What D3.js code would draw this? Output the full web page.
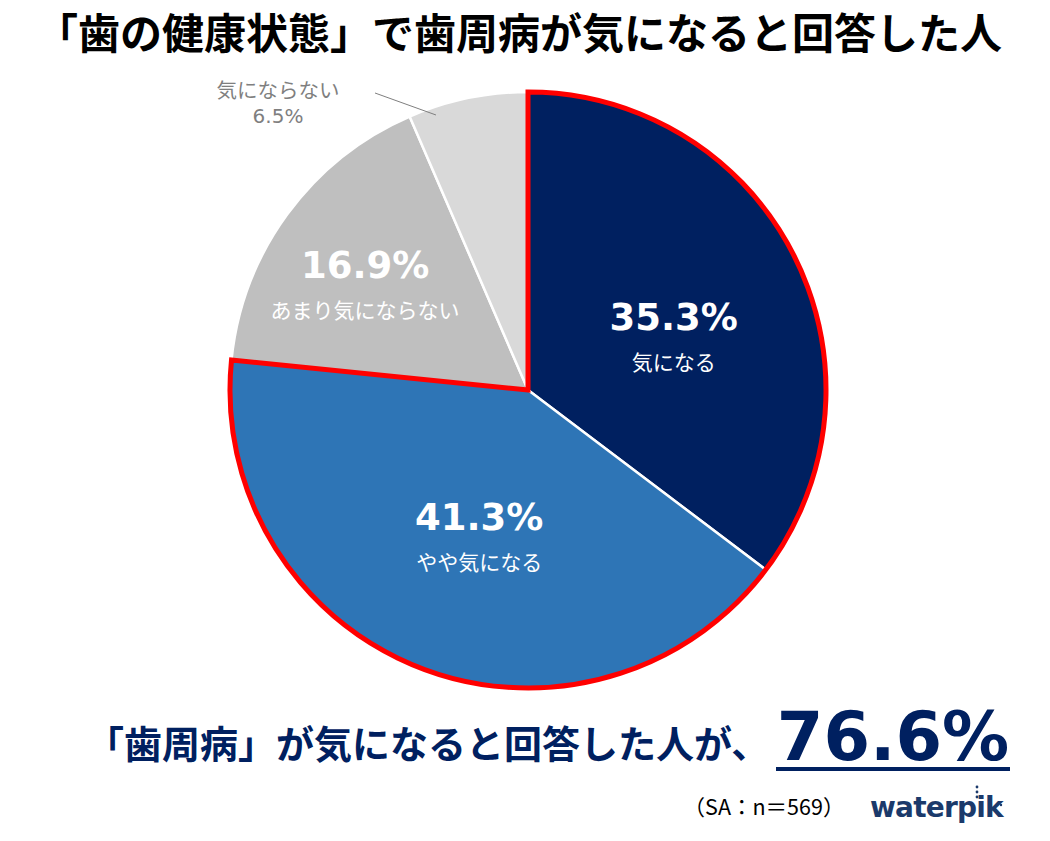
<!DOCTYPE html>
<html>
<head>
<meta charset="utf-8">
<script src="https://cdn.jsdelivr.net/npm/d3@7"></script>
<style>
  html, body { margin: 0; padding: 0; background: #ffffff; }
  svg { display: block; }
</style>
</head>
<body>
<script>
// ---- data ----
const categories = ["気になる", "やや気になる", "あまり気にならない", "気にならない"];
const values = [35.3, 41.3, 16.9, 6.5];
const valueLabels = ["35.3%", "41.3%", "16.9%", "6.5%"];
const highlightCount = 2;              // first two slices form the outlined group
const highlightTotal = "76.6%";
const titleText = "「歯の健康状態」で歯周病が気になると回答した人";
const summaryText = "「歯周病」が気になると回答した人が、";
const noteText = "（SA：n＝569）";
const brandText = "waterpik";

// ---- styles / layout ----
const W = 1050, H = 841;
const sliceColors = ["#002060", "#2E75B6", "#BFBFBF", "#D9D9D9"];
const navy = "#002060";
const cx = 528, cy = 390, R = 298;
// label polar placement [angle deg clockwise from 12 o'clock, radius]
const labelPolar = [[74.7, 151], [197, 167], [299.4, 187]];

const svg = d3.select("body").append("svg").attr("width", W).attr("height", H);
svg.append("rect").attr("width", W).attr("height", H).attr("fill", "#fff");

// title
svg.append("text")
  .attr("x", 519).attr("y", 49)
  .attr("text-anchor", "middle")
  .attr("font-family", "'Noto Sans CJK JP', sans-serif")
  .attr("font-weight", 700)
  .attr("font-size", 42)
  .attr("fill", "#000")
  .text(titleText);

const g = svg.append("g").attr("transform", `translate(${cx},${cy})`);
const pie = d3.pie().sort(null).value(d => d);
const arcs = pie(values);
const arc = d3.arc().innerRadius(0).outerRadius(R);

g.selectAll("path.slice").data(arcs).join("path")
  .attr("class", "slice")
  .attr("d", arc)
  .attr("fill", (d, i) => sliceColors[i])
  .attr("stroke", "#fff")
  .attr("stroke-width", 2.5)
  .attr("stroke-linejoin", "round");

// red outline around highlighted group
g.append("path")
  .attr("d", arc({ startAngle: arcs[0].startAngle, endAngle: arcs[highlightCount - 1].endAngle }))
  .attr("fill", "none")
  .attr("stroke", "#FF0000")
  .attr("stroke-width", 5)
  .attr("stroke-linejoin", "miter");

// inside labels
const polar = (deg, r) => {
  const a = deg * Math.PI / 180;
  return [r * Math.sin(a), -r * Math.cos(a)];
};
labelPolar.forEach((p, i) => {
  const [x, y] = polar(p[0], p[1]);
  g.append("text")
    .attr("x", x).attr("y", y - 20)
    .attr("text-anchor", "middle")
    .attr("font-family", "'DejaVu Sans', Verdana, sans-serif")
    .attr("font-weight", 700)
    .attr("font-size", 37)
    .attr("fill", "#fff")
    .text(valueLabels[i]);
  g.append("text")
    .attr("x", x).attr("y", y + 20)
    .attr("text-anchor", "middle")
    .attr("font-family", "'Noto Sans CJK JP', sans-serif")
    .attr("font-size", 21)
    .attr("fill", "#fff")
    .text(categories[i]);
});

// outside label for smallest slice
const last = arcs[3];
const midA = (last.startAngle + last.endAngle) / 2;
const [lx1, ly1] = polar(midA * 180 / Math.PI - 6.8, 290);
g.append("line")
  .attr("x1", lx1).attr("y1", ly1)
  .attr("x2", 375 - cx).attr("y2", 93 - cy)
  .attr("stroke", "#7F7F7F").attr("stroke-width", 1);
svg.append("text")
  .attr("x", 278).attr("y", 98)
  .attr("text-anchor", "middle")
  .attr("font-family", "'Noto Sans CJK JP', sans-serif")
  .attr("font-size", 20.5)
  .attr("fill", "#7F7F7F")
  .text(categories[3]);
svg.append("text")
  .attr("x", 278).attr("y", 123)
  .attr("text-anchor", "middle")
  .attr("font-family", "'DejaVu Sans', Verdana, sans-serif")
  .attr("font-size", 20)
  .attr("fill", "#7F7F7F")
  .text(valueLabels[3]);

// summary line
svg.append("text")
  .attr("x", 86).attr("y", 758)
  .attr("font-family", "'Noto Sans CJK JP', sans-serif")
  .attr("font-weight", 700)
  .attr("font-size", 38)
  .attr("fill", navy)
  .text(summaryText);

svg.append("text")
  .attr("x", 893).attr("y", 760)
  .attr("text-anchor", "middle")
  .attr("font-family", "'DejaVu Sans', Verdana, sans-serif")
  .attr("font-weight", 700)
  .attr("font-size", 67)
  .attr("fill", navy)
  .text(highlightTotal);
svg.append("line")
  .attr("x1", 776).attr("x2", 1010)
  .attr("y1", 769).attr("y2", 769)
  .attr("stroke", navy).attr("stroke-width", 4);

// note
svg.append("text")
  .attr("x", 764).attr("y", 815)
  .attr("text-anchor", "middle")
  .attr("font-family", "'Noto Sans CJK JP', sans-serif")
  .attr("font-size", 21.5)
  .attr("fill", "#000")
  .text(noteText);

// brand
svg.append("text")
  .attr("x", 870).attr("y", 817)
  .attr("font-family", "'DejaVu Sans', Verdana, sans-serif")
  .attr("font-weight", 700)
  .attr("font-size", 28)
  .attr("letter-spacing", -0.8)
  .attr("fill", "#1B3A6B")
  .text(brandText);
[787, 792, 797].forEach(y => {
  svg.append("circle").attr("cx", 977).attr("cy", y).attr("r", 1.4).attr("fill", "#1B3A6B");
});
svg.append("circle").attr("cx", 1001).attr("cy", 805).attr("r", 1.2).attr("fill", "#1B3A6B");
</script>
</body>
</html>
